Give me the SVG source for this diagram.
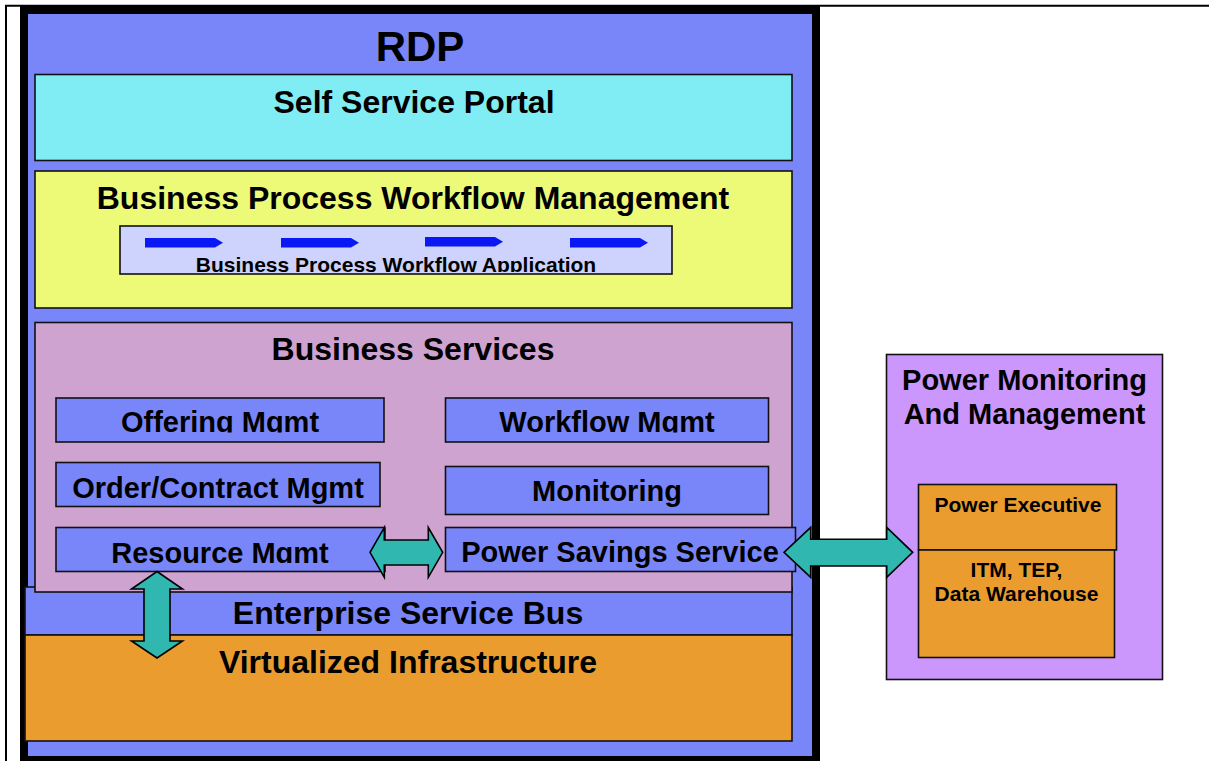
<svg xmlns="http://www.w3.org/2000/svg" width="1209" height="761" viewBox="0 0 1209 761">
  <style>
    text { font-family: "Liberation Sans", Arial, Helvetica, sans-serif; font-weight: bold; fill: #000; text-anchor: middle; }
    .box { stroke: #111; stroke-width: 1.6; }
    .blue { fill: #7986fa; }
    .t32 { font-size: 32px; }
    .t29 { font-size: 29px; }
    .t21 { font-size: 21px; }
    .link { fill: #2fb7b0; stroke: #000; stroke-width: 1.6; stroke-linejoin: miter; }
    .flow { fill: #0a18f4; }
  </style>
  <defs>
    <clipPath id="clipApp"><rect x="120" y="226" width="552" height="46"/></clipPath>
    <clipPath id="clipOffer"><rect x="56" y="398" width="328" height="34.6"/></clipPath>
    <clipPath id="clipWf"><rect x="445" y="398" width="323" height="34.6"/></clipPath>
    <clipPath id="clipRes"><rect x="56" y="528" width="329" height="35"/></clipPath>
  </defs>

  <rect x="0" y="0" width="1209" height="761" fill="#fff"/>
  <!-- page frame -->
  <line x1="6" y1="5.5" x2="6" y2="761" stroke="#000" stroke-width="2"/>
  <line x1="5" y1="5.8" x2="1209" y2="5.8" stroke="#000" stroke-width="2"/>

  <!-- RDP container -->
  <g id="rdp">
    <rect x="20" y="5" width="800" height="756" fill="#000"/>
    <rect x="28" y="14" width="784" height="742" class="blue"/>
    <text x="420" y="61" style="font-size:42px">RDP</text>
  </g>

  <g id="self-service-portal">
    <rect x="35" y="74.5" width="757" height="86" class="box" fill="#80ecf4"/>
    <text x="414" y="113" class="t32">Self Service Portal</text>
  </g>

  <g id="bpwm">
    <rect x="35" y="171" width="757" height="137" class="box" fill="#ecfa78"/>
    <text x="413" y="209" class="t32">Business Process Workflow Management</text>
  </g>

  <g id="bpw-application">
    <rect x="120" y="226" width="552" height="48" class="box" fill="#cdd3fc"/>
    <path class="flow" d="M145 238h70l8 4.8l-8 4.8h-70z"/>
    <path class="flow" d="M281 238h70l8 4.8l-8 4.8h-70z"/>
    <path class="flow" d="M425 237h70l8 4.8l-8 4.8h-70z"/>
    <path class="flow" d="M570 238h70l8 4.8l-8 4.8h-70z"/>
    <text x="396" y="272" class="t21" clip-path="url(#clipApp)">Business Process Workflow Application</text>
  </g>

  <g id="enterprise-service-bus">
    <rect x="25" y="587" width="767" height="48" class="box blue"/>
    <text x="408" y="624" class="t32">Enterprise Service Bus</text>
  </g>

  <g id="virtualized-infrastructure">
    <rect x="25" y="635" width="767" height="106" class="box" fill="#ea9d2e"/>
    <text x="408" y="673" class="t32">Virtualized Infrastructure</text>
  </g>

  <g id="business-services">
    <rect x="35" y="322.5" width="757" height="269.5" class="box" fill="#cfa3cf"/>
    <text x="413" y="360" class="t32">Business Services</text>
  </g>

  <g id="offering-mgmt">
    <rect x="56" y="398" width="328" height="44" class="box blue"/>
    <text x="220" y="432" class="t29" clip-path="url(#clipOffer)">Offering Mgmt</text>
  </g>

  <g id="order-contract-mgmt">
    <rect x="56" y="462.5" width="324" height="44" class="box blue"/>
    <text x="218" y="497.5" class="t29">Order/Contract Mgmt</text>
  </g>

  <g id="resource-mgmt">
    <rect x="56" y="527.5" width="329" height="44" class="box blue"/>
    <text x="220" y="562.5" class="t29" clip-path="url(#clipRes)">Resource Mgmt</text>
  </g>

  <g id="workflow-mgmt">
    <rect x="445.5" y="398" width="323" height="44" class="box blue"/>
    <text x="607" y="432" class="t29" clip-path="url(#clipWf)">Workflow Mgmt</text>
  </g>

  <g id="monitoring">
    <rect x="445.5" y="466.5" width="323" height="48" class="box blue"/>
    <text x="607" y="500.5" class="t29">Monitoring</text>
  </g>

  <g id="power-savings-service">
    <rect x="445.5" y="527.5" width="350" height="44" class="box blue"/>
    <text x="620" y="562" class="t29">Power Savings Service</text>
  </g>

  <g id="power-monitoring">
    <rect x="886.5" y="354.5" width="276" height="325" class="box" fill="#cb97fc"/>
    <text x="1024.5" y="390" class="t29">Power Monitoring</text>
    <text x="1024.5" y="423.5" class="t29">And Management</text>
  </g>

  <g id="power-executive">
    <rect x="918.5" y="484.5" width="198" height="65.5" class="box" fill="#ea9d2e"/>
    <text x="1018" y="512" class="t21">Power Executive</text>
  </g>

  <g id="itm-tep">
    <rect x="918.5" y="550" width="196" height="107.5" class="box" fill="#ea9d2e"/>
    <text x="1016.5" y="577" class="t21">ITM, TEP,</text>
    <text x="1016.5" y="600.5" class="t21">Data Warehouse</text>
  </g>

  <!-- connectors: double-headed block arrows -->
  <g id="connectors">
    <path class="link" d="M370 552.3L384.3 527.5V540H428.3V527.5L442.7 552.3L428.3 577.3V565H384.3V577.3Z"/>
    <path class="link" d="M784 552.3L810.7 527.3V539.3H886.7V527.3L912.7 552.3L886.7 577.3V566H810.7V577.3Z"/>
    <path class="link" d="M157 571.5L182.5 589H170V641H182.5L157 658L131.5 641H144V589H131.5Z"/>
  </g>
</svg>
